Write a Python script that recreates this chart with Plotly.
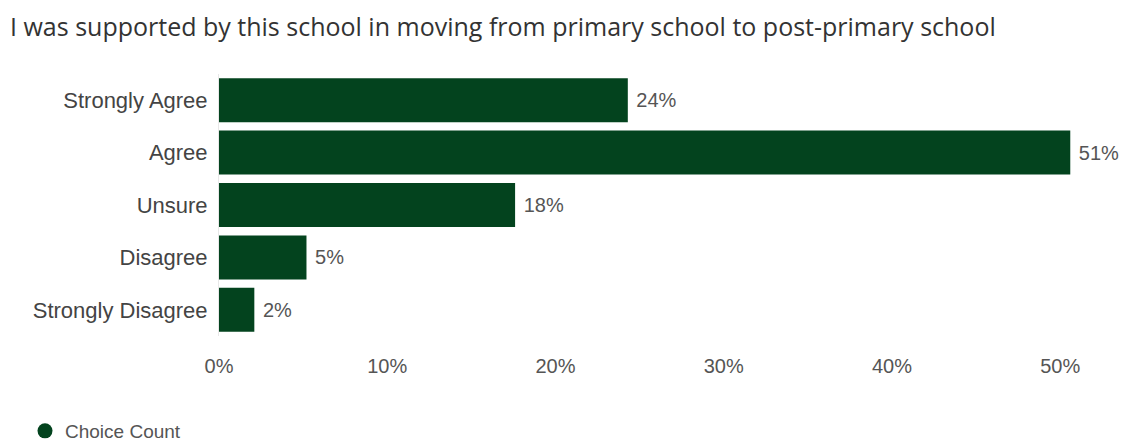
import plotly.graph_objects as go

categories = ["Strongly Agree", "Agree", "Unsure", "Disagree", "Strongly Disagree"]
values = [24.3, 50.6, 17.6, 5.2, 2.1]
tick_vals = [0, 10, 20, 30, 40, 50]
tick_text = ["0%", "10%", "20%", "30%", "40%", "50%"]
series_name = "Choice Count"
title_text = "I was supported by this school in moving from primary school to post-primary school"

GREEN = "#03431e"
GRAY = "#555555"
W, H = 1123, 443

fig = go.Figure()
fig.add_trace(go.Bar(
    y=categories, x=values, orientation="h",
    marker=dict(color=GREEN, line=dict(width=0)),
    texttemplate=" %{x:.0f}%", textposition="outside",
    textfont=dict(family="Liberation Sans, Arial, sans-serif", size=20, color=GRAY),
    cliponaxis=False, constraintext="none",
    showlegend=False, hoverinfo="skip",
))
fig.add_trace(go.Scatter(
    x=[None], y=[None], mode="markers", name=series_name,
    marker=dict(symbol="circle", size=15, color=GREEN),
    showlegend=True,
))

fig.update_layout(
    width=W, height=H,
    margin=dict(l=219, r=46, t=74, b=107),
    paper_bgcolor="white", plot_bgcolor="white",
    bargap=0.16,
    title=dict(text=title_text, x=10 / W, xref="container", xanchor="left",
               y=1 - 27 / H, yref="container", yanchor="middle",
               font=dict(family="Open Sans, sans-serif", size=25, color="#333333")),
    xaxis=dict(range=[0, 51], tickvals=tick_vals, ticktext=tick_text,
               showgrid=False, zeroline=False, showline=False,
               ticks="", ticklabelstandoff=16,
               tickfont=dict(family="Liberation Sans, Arial, sans-serif", size=20, color=GRAY)),
    yaxis=dict(categoryorder="array", categoryarray=categories, autorange="reversed",
               showgrid=False, zeroline=False, showline=True, linecolor="#e8e8e8", linewidth=1,
               ticks="", ticklabelstandoff=6,
               tickfont=dict(family="Liberation Sans, Arial, sans-serif", size=22, color="#444444")),
    legend=dict(orientation="h", x=25 / W, xref="container", xanchor="left",
                y=1 - 431 / H, yref="container", yanchor="middle",
                font=dict(family="Liberation Sans, Arial, sans-serif", size=19, color=GRAY)),
)

fig.write_html("out.html")
